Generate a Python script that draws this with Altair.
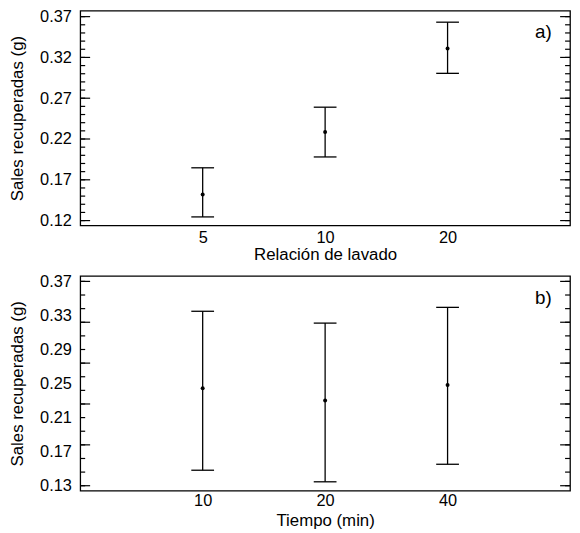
import altair as alt
import pandas as pd

# ---- data ----
relacion = ["5", "10", "20"]
relacion_mean = [0.152, 0.2285, 0.331]
relacion_low = [0.1245, 0.198, 0.3005]
relacion_high = [0.1847, 0.259, 0.3632]

tiempo = ["10", "20", "40"]
tiempo_mean = [0.2444, 0.230, 0.2483]
tiempo_low = [0.1482, 0.1346, 0.1552]
tiempo_high = [0.3349, 0.321, 0.3395]

# ---- axis ticks / labels ----
top_labels = [0.12, 0.17, 0.22, 0.27, 0.32, 0.37]
top_major = [0.12, 0.17, 0.22, 0.27, 0.32, 0.37]
top_minor = [0.12, 0.13, 0.14, 0.15, 0.16, 0.17, 0.18, 0.19, 0.20, 0.21, 0.22,
             0.23, 0.24, 0.25, 0.26, 0.27, 0.28, 0.29, 0.30, 0.31, 0.32, 0.33,
             0.34, 0.35, 0.36, 0.37]
top_domain = [0.114, 0.3772]

bot_labels = [0.13, 0.17, 0.21, 0.25, 0.29, 0.33, 0.37]
bot_major = [0.13, 0.178, 0.226, 0.274, 0.322, 0.37]
bot_minor = [0.13, 0.146, 0.162, 0.178, 0.194, 0.21, 0.226, 0.242, 0.258,
             0.274, 0.29, 0.306, 0.322, 0.338, 0.354, 0.37]
bot_domain = [0.1242, 0.3764]

FONT = "Liberation Sans"
W = 495


def panel(cats, means, lows, highs, xtitle, labels, major, minor, domain, tag,
          label_pad, title_pad, h):
    df = pd.DataFrame({"cat": cats, "mean": means, "low": lows, "high": highs})
    xenc = alt.X("cat:N", sort=None,
                 scale=alt.Scale(type="point", padding=1.1),
                 axis=alt.Axis(title=xtitle, labelAngle=0, ticks=False, tickSize=0,
                               domain=False, grid=False, labelPadding=label_pad,
                               titlePadding=title_pad))
    yscale = alt.Scale(domain=domain, nice=False, zero=False)
    yaxis = alt.Axis(title="Sales recuperadas (g)", values=labels, format=".2f",
                     ticks=False, tickSize=0, domain=False, grid=False,
                     labelPadding=9, titlePadding=13)

    bars = alt.Chart(df).mark_rule(color="black", strokeWidth=1.3).encode(
        x=xenc, y=alt.Y("low:Q", scale=yscale, axis=yaxis), y2="high:Q")
    cap_lo = alt.Chart(df).mark_tick(color="black", size=23, thickness=1.3,
                                     opacity=1).encode(
        x=xenc, y=alt.Y("low:Q", scale=yscale, axis=yaxis))
    cap_hi = alt.Chart(df).mark_tick(color="black", size=23, thickness=1.3,
                                     opacity=1).encode(
        x=xenc, y=alt.Y("high:Q", scale=yscale, axis=yaxis))
    pts = alt.Chart(df).mark_circle(color="black", size=16, opacity=1).encode(
        x=xenc, y=alt.Y("mean:Q", scale=yscale, axis=yaxis))

    minor_df = pd.DataFrame({"v": minor})
    major_df = pd.DataFrame({"v": major})

    def ticks(d, x0, x1):
        return alt.Chart(d).mark_rule(color="black", strokeWidth=1.2).encode(
            y=alt.Y("v:Q", scale=yscale, axis=yaxis),
            x=alt.value(x0), x2=alt.value(x1))

    tk = [ticks(minor_df, 0, 5), ticks(minor_df, W - 5, W),
          ticks(major_df, 0, 10), ticks(major_df, W - 10, W)]

    tag_layer = alt.Chart(pd.DataFrame({"t": [tag]})).mark_text(
        font=FONT, fontSize=19, color="black", align="center",
        baseline="middle").encode(text="t:N", x=alt.value(468), y=alt.value(22))

    return alt.layer(bars, cap_lo, cap_hi, pts, *tk, tag_layer).properties(
        width=W, height=h)


top = panel(relacion, relacion_mean, relacion_low, relacion_high,
            "Relación de lavado", top_labels, top_major, top_minor, top_domain,
            "a)", 4, 1, 217)
bottom = panel(tiempo, tiempo_mean, tiempo_low, tiempo_high,
               "Tiempo (min)", bot_labels, bot_major, bot_minor, bot_domain,
               "b)", 2, 4, 217)

chart = alt.vconcat(top, bottom, spacing=8).properties(
    padding={"left": 0, "top": -3, "right": 0, "bottom": 0},
    background="white"
).configure_view(stroke="black", strokeWidth=1.3).configure_axis(
    labelFont=FONT, labelFontSize=16.5, labelColor="black",
    titleFont=FONT, titleFontSize=17, titleFontWeight="normal", titleColor="black"
)

chart.save("out.html", embed_options={"renderer": "svg", "actions": False})
